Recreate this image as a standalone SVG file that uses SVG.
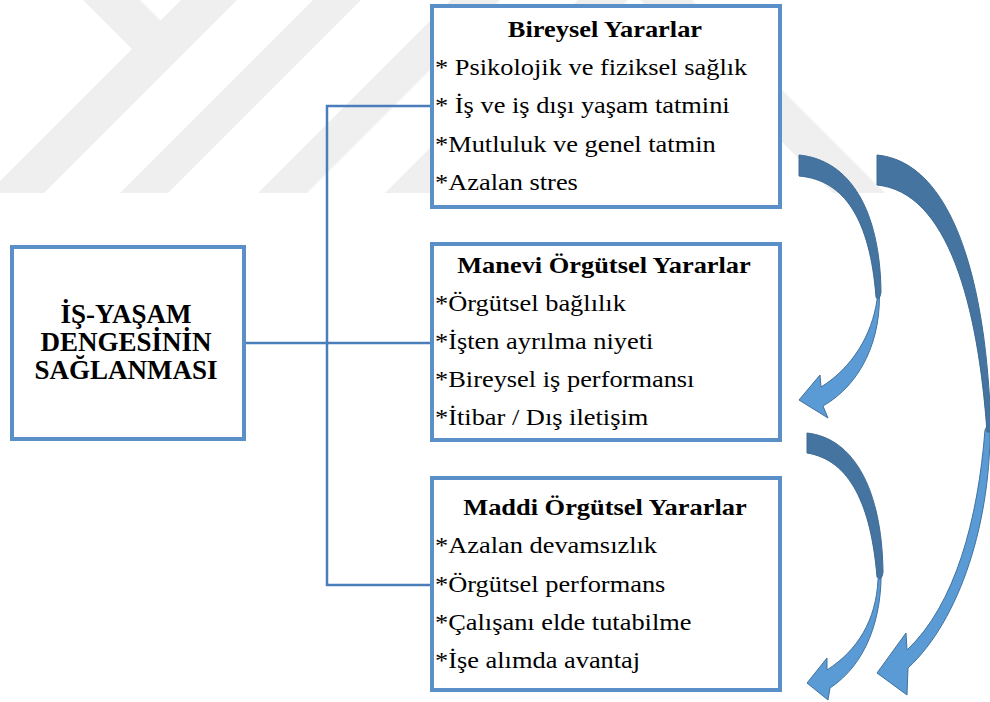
<svg xmlns="http://www.w3.org/2000/svg" width="990" height="702" viewBox="0 0 990 702">
<style>
.wm{fill:#efefef}
.box{fill:#ffffff;stroke:#5b8fc8;stroke-width:4}
.conn{fill:none;stroke:#4a7ebb;stroke-width:2.5}
.dark{fill:#44749f;stroke:#3d6a94;stroke-width:1}
.light{fill:#5b9bd5;stroke:#41719c;stroke-width:1}
</style>
<rect width="990" height="702" fill="#ffffff"/>
<g id="watermark">
<polygon class="wm" points="83,0 140,0 160.5,20.5 181,0 237,0 44,193 -12,193 132,49"/>
<polygon class="wm" points="313,0 361,0 168,193 120,193"/>
<polygon class="wm" points="451,0 500,0 307,193 258,193"/>
<polygon class="wm" points="578,0 628,0 435,193 385,193"/>
<polygon class="wm" points="640,0 692,0 885,193 833,193"/>
</g>
<g id="connectors">
<polyline class="conn" points="432,106 327,106 327,585 432,585"/>
<line class="conn" x1="246" y1="343" x2="432" y2="343"/>
</g>
<g id="main">
<rect class="box" x="12" y="247" width="232" height="192"/>
<g font-family="Liberation Serif, Times New Roman, serif" font-size="27" font-weight="bold" text-anchor="middle" fill="#000">
<text x="126" y="323">İŞ-YAŞAM</text>
<text x="126" y="351">DENGESİNİN</text>
<text x="126" y="379">SAĞLANMASI</text>
</g>
</g>
<g id="bireysel">
<rect class="box" x="432" y="6" width="348" height="201"/>
<g font-family="Liberation Serif, Times New Roman, serif" font-size="24" fill="#000" transform="matrix(1.1,0,0,1,-43.5,0)">
<text x="589.5" y="37" font-weight="bold" text-anchor="middle">Bireysel Yararlar</text>
<text x="435" y="75">* Psikolojik ve fiziksel sağlık</text>
<text x="435" y="113">* İş ve iş dışı yaşam tatmini</text>
<text x="435" y="152">*Mutluluk ve genel tatmin</text>
<text x="435" y="190">*Azalan stres</text>
</g>
</g>
<g id="manevi">
<rect class="box" x="432" y="244" width="348" height="196"/>
<g font-family="Liberation Serif, Times New Roman, serif" font-size="24" fill="#000" transform="matrix(1.1,0,0,1,-43.5,0)">
<text x="588.6" y="273" font-weight="bold" text-anchor="middle">Manevi Örgütsel Yararlar</text>
<text x="435" y="311">*Örgütsel bağlılık</text>
<text x="435" y="349">*İşten ayrılma niyeti</text>
<text x="435" y="387">*Bireysel iş performansı</text>
<text x="435" y="425">*İtibar / Dış iletişim</text>
</g>
</g>
<g id="maddi">
<rect class="box" x="432" y="478" width="348" height="212"/>
<g font-family="Liberation Serif, Times New Roman, serif" font-size="24" fill="#000" transform="matrix(1.1,0,0,1,-43.5,0)">
<text x="589.5" y="515" font-weight="bold" text-anchor="middle">Maddi Örgütsel Yararlar</text>
<text x="435" y="553">*Azalan devamsızlık</text>
<text x="435" y="592">*Örgütsel performans</text>
<text x="435" y="630">*Çalışanı elde tutabilme</text>
<text x="435" y="668">*İşe alımda avantaj</text>
</g>
</g>
<g id="arrow1">
<path class="light" d="M879,285 C883,340 860,385 823,406 L828,418 L799,400 L820,375 L821,387 C852,368 872,335 877,300 Z"/>
<path class="dark" d="M799,155 C850,160 880,210 881,292 C880,300 877,300 876,297 C870,220 845,180 799,176 Z"/>
</g>
<g id="arrow2">
<path class="light" d="M990,420 C992,520 960,620 908,668 L907,695 L877,673 L906,633 L907,650 C955,605 978,520 985,430 Z"/>
<path class="dark" d="M877,155 C952,162 987,280 991,432 L987,432 C978,305 948,192 877,185 Z"/>
</g>
<g id="arrow3">
<path class="light" d="M881,565 C883,620 865,665 830,688 L828,700 L807,683 L827,658 L827,670 C858,650 876,620 878,580 Z"/>
<path class="dark" d="M807,433 C854,438 882,490 883,572 C882,580 879,580 877,577 C871,505 850,460 807,453 Z"/>
</g>
</svg>
